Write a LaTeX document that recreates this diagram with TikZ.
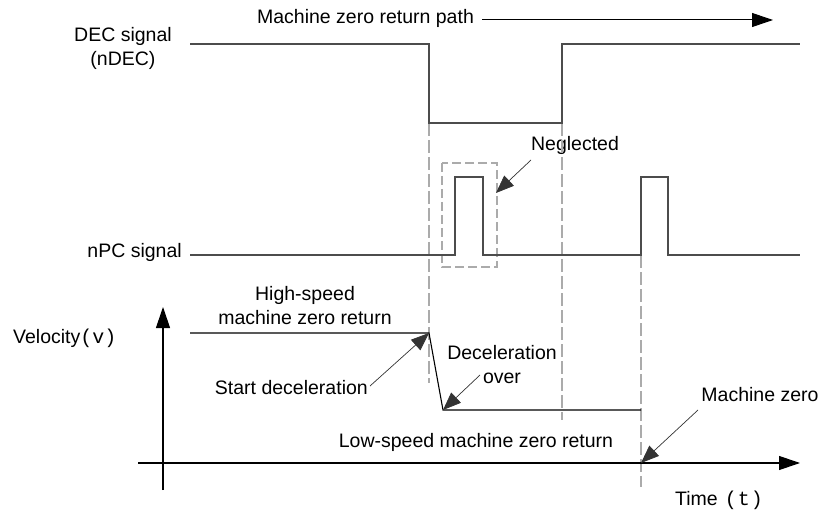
\documentclass[tikz,border=0pt]{standalone}
\usepackage{fontspec}
\setmainfont{Liberation Sans}
\newfontfamily\monof{Liberation Mono}
\usetikzlibrary{arrows.meta}
\begin{document}
\begin{tikzpicture}[x=1pt,y=-1pt,
  sig/.style={draw=black!70, line width=1.3pt},
  vel/.style={draw=black, line width=1.1pt},
  guide/.style={draw=black!33, line width=1.1pt, dash pattern=on 13pt off 4pt},
  bigarrow/.style={-{Triangle[length=21pt,width=14pt]}},
  callout/.style={draw=black!80, line width=0.7pt, -{Triangle[length=18pt,width=14pt]}},
  lbl/.style={font=\fontsize{19.5}{24}\selectfont, inner sep=0pt, align=center}
]
\useasboundingbox (0,0) rectangle (822,513);

% labels
\node[lbl] (path) at (365.5,18) {Machine zero return path};
\node[lbl] (dec) at (123,48) {DEC signal\\(nDEC)};
\node[lbl, anchor=east] (npc) at (182,252) {nPC signal};
\node[lbl, anchor=west] (vel) at (13,338) {Velocity{\monof\fontsize{20}{22}\selectfont (v)}};
\node[lbl] (hs) at (305,306) {High-speed\\machine zero return};
\node[lbl, anchor=east] (sd) at (368,388) {Start deceleration};
\node[lbl] (dov) at (502,365) {Deceleration\\over};
\node[lbl] (ng) at (575,145) {Neglected};
\node[lbl] (ls) at (476,442) {Low-speed machine zero return};
\node[lbl] (mz) at (760,395) {Machine zero};
\node[lbl, anchor=west] (tm) at (675,500) {Time\hspace{7pt}{\monof\fontsize{20}{22}\selectfont(\kern1pt t\kern1pt)}};

% path arrow
\coordinate (pathS) at (482,20);
\coordinate (pathE) at (773,20);
\draw[black, line width=1pt, bigarrow] (pathS) -- (pathE);

% guides
\coordinate (g1t) at (429,123); \coordinate (g1b) at (429,383);
\coordinate (g2t) at (562,123); \coordinate (g2b) at (562,420);
\coordinate (g3t) at (641,255); \coordinate (g3b) at (641,487);
\draw[guide] (g1t) -- (g1b);
\draw[guide] (g2t) -- (g2b);
\draw[guide] (g3t) -- (g3b);
% neglected box
\draw[guide, dash pattern=on 9pt off 4pt] (442,163) rectangle (497,267);

% DEC signal
\draw[sig] (190,44) -- (429,44) -- (429,123) -- (562,123) -- (562,44) -- (800,44);
% nPC signal
\draw[sig] (190,255) -- (455,255) -- (455,177) -- (483,177) -- (483,255)
  -- (641,255) -- (641,177) -- (668,177) -- (668,255) -- (800,255);

% axes
\coordinate (ox) at (138,463); \coordinate (xe) at (800,463);
\coordinate (oy) at (163,490); \coordinate (ye) at (163,307);
\draw[black, line width=1.1pt, bigarrow] (ox) -- (xe);
\draw[black, line width=1.1pt, bigarrow] (oy) -- (ye);

% velocity profile
\coordinate (v0) at (190,333);
\coordinate (v1) at (429,333);
\coordinate (v2) at (443,410);
\coordinate (v3) at (641,410);
\draw[vel] (v0) -- (v1) -- (v2) -- (v3);

% callouts
\coordinate (ngS) at (531,160); \coordinate (ngT) at (496,193);
\draw[callout] (ngS) -- (ngT);
\coordinate (sdS) at (370,386);
\draw[callout] (sdS) -- (v1);
\coordinate (dovS) at (480,375);
\draw[callout] (dovS) -- (v2);
\coordinate (mzS) at (698,410); \coordinate (mzT) at (641,463);
\draw[callout] (mzS) -- (mzT);
\end{tikzpicture}
\end{document}
